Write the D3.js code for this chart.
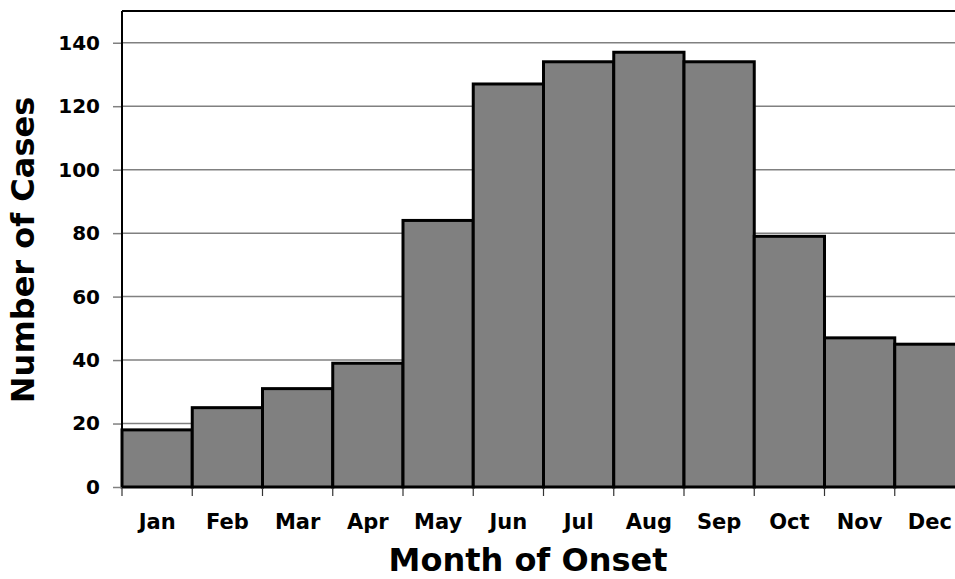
<!DOCTYPE html>
<html>
<head>
<meta charset="utf-8">
<script src="https://cdn.jsdelivr.net/npm/d3@7"></script>
<style>
  body { margin: 0; background: #fff; overflow: hidden; }
  text { font-family: "DejaVu Sans", Verdana, sans-serif; font-weight: bold; fill: #000; }
</style>
</head>
<body>
<div id="chart"></div>
<script>
// Cases by month of onset
const months = ["Jan", "Feb", "Mar", "Apr", "May", "Jun", "Jul", "Aug", "Sep", "Oct", "Nov", "Dec"];
const cases = [18, 25, 31, 39, 84, 127, 134, 137, 134, 79, 47, 45];
const yTicks = [0, 20, 40, 60, 80, 100, 120, 140];

const width = 955;
const height = 579;
const margin = {top: 11, right: -10, bottom: 92, left: 122};

const svg = d3.select("#chart")
  .append("svg")
  .attr("width", width)
  .attr("height", height);

const x = d3.scaleBand()
  .domain(months)
  .range([margin.left, width - margin.right])
  .padding(0);

const y = d3.scaleLinear()
  .domain([0, 150])
  .range([height - margin.bottom, margin.top]);

// gridlines
svg.append("g")
  .selectAll("line")
  .data(yTicks.filter(d => d > 0))
  .enter()
  .append("line")
  .attr("x1", margin.left)
  .attr("x2", width)
  .attr("y1", d => y(d))
  .attr("y2", d => y(d))
  .attr("stroke", "#808080")
  .attr("stroke-width", 1.5);

// bars
svg.append("g")
  .selectAll("rect")
  .data(months.map((m, i) => ({month: m, value: cases[i]})))
  .enter()
  .append("rect")
  .attr("x", d => x(d.month))
  .attr("y", d => y(d.value))
  .attr("width", x.bandwidth())
  .attr("height", d => y(0) - y(d.value))
  .attr("fill", "#808080")
  .attr("stroke", "#000")
  .attr("stroke-width", 3);

// Y axis
const yAxis = svg.append("g")
  .attr("transform", `translate(${margin.left},0)`)
  .call(d3.axisLeft(y).tickValues(yTicks).tickSize(9).tickPadding(13));
yAxis.select(".domain").remove();
yAxis.selectAll(".tick line").attr("stroke", "#808080").attr("stroke-width", 1.5);
yAxis.selectAll("text").style("font-size", "20px");

// X axis
const xAxis = svg.append("g")
  .attr("transform", `translate(0, ${y(0)})`)
  .call(d3.axisBottom(x).tickSize(0).tickPadding(27));
xAxis.select(".domain").remove();
xAxis.selectAll("text").style("font-size", "21px");

// month boundary ticks
svg.append("g")
  .selectAll("line")
  .data(months)
  .enter()
  .append("line")
  .attr("x1", d => x(d))
  .attr("x2", d => x(d))
  .attr("y1", y(0))
  .attr("y2", y(0) + 9)
  .attr("stroke", "#333")
  .attr("stroke-width", 1.2);

// frame: left, top, bottom
svg.append("line")
  .attr("x1", margin.left).attr("x2", margin.left)
  .attr("y1", y(150)).attr("y2", y(0))
  .attr("stroke", "#000").attr("stroke-width", 2);
svg.append("line")
  .attr("x1", margin.left).attr("x2", width)
  .attr("y1", y(150)).attr("y2", y(150))
  .attr("stroke", "#000").attr("stroke-width", 2);
svg.append("line")
  .attr("x1", margin.left).attr("x2", width)
  .attr("y1", y(0)).attr("y2", y(0))
  .attr("stroke", "#000").attr("stroke-width", 2);

// titles
svg.append("text")
  .attr("x", 528)
  .attr("y", 571)
  .attr("text-anchor", "middle")
  .style("font-size", "32px")
  .text("Month of Onset");

svg.append("text")
  .attr("transform", `translate(34, 250) rotate(-90)`)
  .attr("text-anchor", "middle")
  .style("font-size", "32px")
  .text("Number of Cases");
</script>
</body>
</html>
